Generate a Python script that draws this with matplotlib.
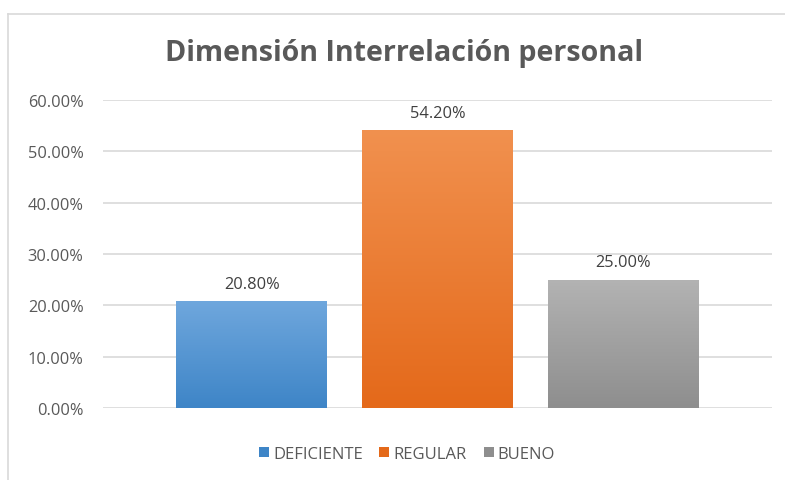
import numpy as np
import matplotlib
matplotlib.use("Agg")
import matplotlib.pyplot as plt
from matplotlib.lines import Line2D
from matplotlib.patches import Patch
from matplotlib.colors import LinearSegmentedColormap

categories = ["DEFICIENTE", "REGULAR", "BUENO"]
values = [0.208, 0.542, 0.25]
labels = ["20.80%", "54.20%", "25.00%"]
yticks = [0.0, 0.1, 0.2, 0.3, 0.4, 0.5, 0.6]
# top / bottom colours of each bar gradient
top_colors = ["#6FA7DD", "#F1914F", "#B3B3B3"]
bottom_colors = ["#3E85C7", "#E4691A", "#8E8E8E"]

plt.rcParams['font.family'] = ['Open Sans', 'DejaVu Sans']

fig = plt.figure(figsize=(7.85, 4.81), dpi=100)
ax = fig.add_axes([103 / 785, 1 - 409 / 481, (772 - 103) / 785, (409 - 101) / 481])

x = np.arange(len(categories))
bars = ax.bar(x, values, width=0.81, color="none", zorder=3)

grad = np.linspace(0, 1, 256).reshape(-1, 1)
for b, c0, c1 in zip(bars, top_colors, bottom_colors):
    cmap = LinearSegmentedColormap.from_list("g", [c1, c0])
    bx, by = b.get_x(), b.get_y()
    im = ax.imshow(grad, cmap=cmap, aspect="auto", origin="lower",
                   extent=[bx, bx + b.get_width(), by, by + b.get_height()], zorder=3)
    im.set_clip_path(b)

for xi, v, lab in zip(x, values, labels):
    ax.text(xi, v + 0.018, lab, ha="center", va="bottom", fontsize=11.8, color="#404040")

ax.set_xlim(-0.80, 2.80)
ax.set_ylim(0, 0.6)
ax.set_yticks(yticks)
ax.set_yticklabels([f"{t * 100:.2f}%" for t in yticks], fontsize=11.8, color="#595959")
ax.set_xticks([])
ax.yaxis.grid(True, color="#D9D9D9", linewidth=1.2, zorder=0)
ax.tick_params(axis="y", length=0, pad=14)
for s in ax.spines.values():
    s.set_visible(False)
ax.set_axisbelow(True)

fig.text(404 / 785, 1 - 54 / 481, "Dimensión Interrelación personal", ha="center", va="center",
         fontsize=20.6, fontweight="bold", color="#595959")

handles = [Patch(facecolor=c, edgecolor="none") for c in bottom_colors]
fig.legend(handles, categories, loc="center", bbox_to_anchor=(407 / 785, 1 - 455 / 481),
           ncol=3, frameon=False, fontsize=12, handlelength=0.6, handleheight=0.6,
           handletextpad=0.25, columnspacing=1.0, labelcolor="#595959")

# chart border (top and left visible)
fig.add_artist(Line2D([8 / 785, 1], [1 - 15 / 481, 1 - 15 / 481], color="#D9D9D9", linewidth=1.2))
fig.add_artist(Line2D([8 / 785, 8 / 785], [0, 1 - 15 / 481], color="#D9D9D9", linewidth=1.2))

fig.savefig("out.png", dpi=100)
